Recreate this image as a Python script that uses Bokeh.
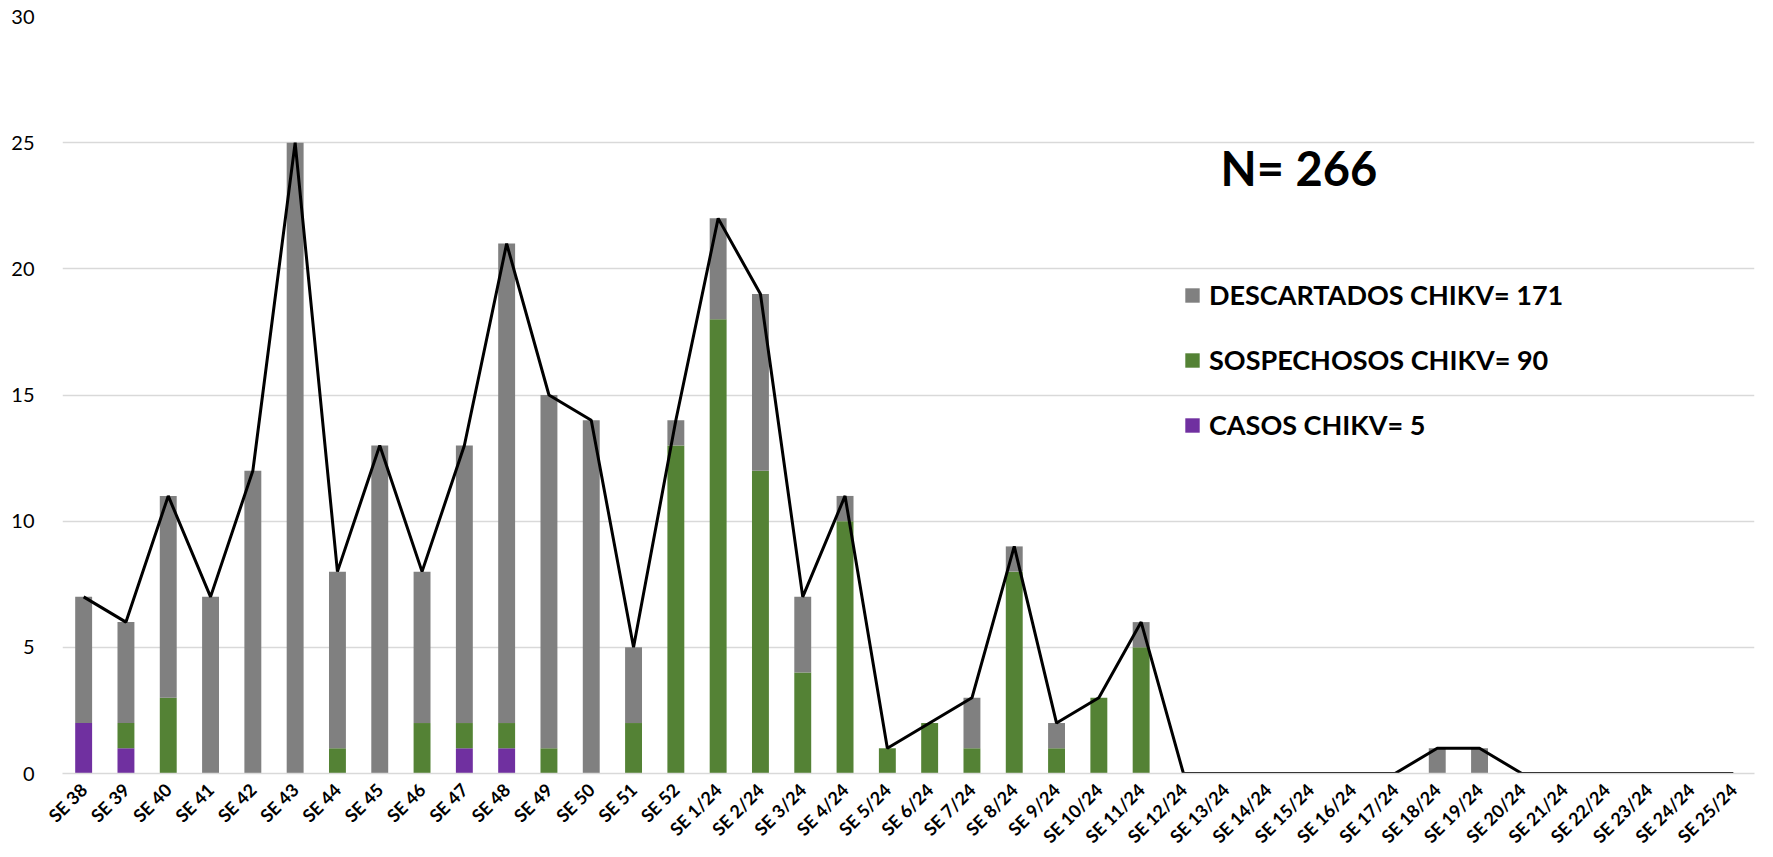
import math
from bokeh.plotting import figure
from bokeh.models import ColumnDataSource, Legend, LegendItem, Label, FactorRange, SingleIntervalTicker
from bokeh.embed import file_html
from bokeh.resources import INLINE

weeks = ["SE 38", "SE 39", "SE 40", "SE 41", "SE 42", "SE 43", "SE 44", "SE 45", "SE 46", "SE 47",
         "SE 48", "SE 49", "SE 50", "SE 51", "SE 52", "SE 1/24", "SE 2/24", "SE 3/24", "SE 4/24", "SE 5/24",
         "SE 6/24", "SE 7/24", "SE 8/24", "SE 9/24", "SE 10/24", "SE 11/24", "SE 12/24", "SE 13/24", "SE 14/24",
         "SE 15/24", "SE 16/24", "SE 17/24", "SE 18/24", "SE 19/24", "SE 20/24", "SE 21/24", "SE 22/24",
         "SE 23/24", "SE 24/24", "SE 25/24"]
casos = [2, 1, 0, 0, 0, 0, 0, 0, 0, 1, 1, 0, 0, 0, 0, 0, 0, 0, 0, 0,
         0, 0, 0, 0, 0, 0, 0, 0, 0, 0, 0, 0, 0, 0, 0, 0, 0, 0, 0, 0]
sospechosos = [0, 1, 3, 0, 0, 0, 1, 0, 2, 1, 1, 1, 0, 2, 13, 18, 12, 4, 10, 1,
               2, 1, 8, 1, 3, 5, 0, 0, 0, 0, 0, 0, 0, 0, 0, 0, 0, 0, 0, 0]
descartados = [5, 4, 8, 7, 12, 25, 7, 13, 6, 11, 19, 14, 14, 3, 1, 4, 7, 3, 1, 0,
               0, 2, 1, 1, 0, 1, 0, 0, 0, 0, 0, 0, 1, 1, 0, 0, 0, 0, 0, 0]
total = [c + s + d for c, s, d in zip(casos, sospechosos, descartados)]

labels = ["DESCARTADOS CHIKV= 171", "SOSPECHOSOS CHIKV= 90", "CASOS CHIKV= 5"]
colors = {"casos": "#7030A0", "sospechosos": "#548235", "descartados": "#808080"}

src = ColumnDataSource(dict(week=weeks, casos=casos, sospechosos=sospechosos,
                            descartados=descartados, total=total))

FONT = "Lato"

p = figure(x_range=FactorRange(*weeks, range_padding=0), y_range=(0, 30),
           width=1765, height=857, output_backend="svg", toolbar_location=None,
           min_border_left=62, min_border_right=11, min_border_top=16, min_border_bottom=84)
p.outline_line_color = None
p.background_fill_color = "white"

rs = p.vbar_stack(["casos", "sospechosos", "descartados"], x="week", width=0.4, source=src,
                  color=[colors["casos"], colors["sospechosos"], colors["descartados"]],
                  line_color=None)
p.line(x="week", y="total", source=src, line_color="black", line_width=3)

legend = Legend(items=[LegendItem(label=labels[0], renderers=[rs[2]]),
                       LegendItem(label=labels[1], renderers=[rs[1]]),
                       LegendItem(label=labels[2], renderers=[rs[0]])],
                location=(1121, 332), orientation="vertical")
legend.padding = 0
legend.margin = 0
legend.border_line_color = None
legend.background_fill_alpha = 0
legend.glyph_width = 18
legend.glyph_height = 18
legend.label_height = 20
legend.spacing = 32
legend.label_standoff = 8
legend.label_text_font = FONT
legend.label_text_font_style = "bold"
legend.label_text_font_size = "27px"
legend.label_text_color = "black"
legend.label_text_baseline = "middle"
p.add_layout(legend, "center")

p.add_layout(Label(x=1158, y=606, x_units="screen", y_units="screen", text="N= 266",
                   text_font=FONT, text_font_style="bold", text_font_size="47px",
                   text_color="black", text_baseline="middle"))

p.xgrid.grid_line_color = None
p.ygrid.grid_line_color = "#d9d9d9"
p.ygrid.grid_line_width = 1.5
p.yaxis.ticker = SingleIntervalTicker(interval=5)
p.yaxis.axis_line_color = None
p.yaxis.major_tick_line_color = None
p.yaxis.minor_tick_line_color = None
p.yaxis.major_label_text_font = FONT
p.yaxis.major_label_text_font_size = "20px"
p.yaxis.major_label_text_color = "#000000"
p.yaxis.major_label_standoff = 22

p.xaxis.axis_line_color = "#d9d9d9"
p.xaxis.axis_line_width = 1.5
p.xaxis.major_tick_line_color = None
p.xaxis.minor_tick_line_color = None
p.xaxis.major_label_orientation = math.pi / 4
p.xaxis.major_label_text_font = FONT
p.xaxis.major_label_text_font_style = "bold"
p.xaxis.major_label_text_font_size = "18px"
p.xaxis.major_label_text_color = "black"
p.xaxis.major_label_standoff = 7

open("out.html", "w").write(file_html(p, INLINE))
